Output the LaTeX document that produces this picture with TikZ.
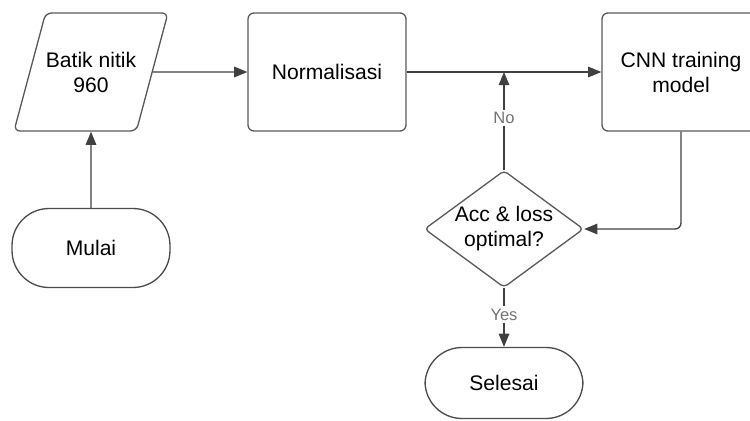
\documentclass[tikz,border=0pt]{standalone}
\usepackage{fontspec}
\setmainfont{Liberation Sans}
\usetikzlibrary{arrows.meta,shapes.geometric}
\tikzset{
  flowtext/.style={font=\fontsize{12}{14.2}\selectfont, align=center, text=black},
  procbox/.style={flowtext, draw=black!65, line width=0.75pt, rounded corners=0.12cm, minimum width=3.16cm, minimum height=2.36cm},
  iobox/.style={flowtext, draw=black!65, line width=0.75pt, rounded corners=0.12cm, trapezium, trapezium left angle=52, trapezium right angle=128, trapezium stretches body, minimum width=3.08cm, minimum height=2.36cm, inner sep=0pt},
  termbox/.style={flowtext, draw=black!70, line width=0.75pt, rounded corners=0.74cm, minimum width=3.16cm, minimum height=1.58cm},
  decbox/.style={flowtext, draw=black!65, line width=0.75pt, rounded corners=0.08cm, diamond, aspect=1.36, inner sep=0pt, minimum width=3.04cm, minimum height=2.24cm},
  flowarrow/.style={draw=black!75, line width=0.75pt, -{Triangle[length=7.5pt, width=6pt]}},
  flowlabel/.style={font=\fontsize{9.4}{11}\selectfont, text=black!55, fill=white, inner sep=1.5pt}
}
\begin{document}
\begin{tikzpicture}[x=0.02cm,y=-0.02cm]
\useasboundingbox (0,0) rectangle (750,420);
\node[iobox] (batik) at (91,72) {Batik nitik\\960};
\node[procbox] (norm) at (327,72) {Normalisasi};
\node[procbox] (cnn) at (681,72) {CNN training\\model};
\node[decbox] (optim) at (504,229) {Acc \& loss\\optimal?};
\node[termbox] (mulai) at (91,248) {Mulai};
\node[termbox, minimum height=1.42cm] (selesai) at (504,383) {Selesai};
\coordinate (join) at (504,72);
\draw[flowarrow] (mulai.north) -- (batik.south);
\draw[flowarrow] (batik.east) -- (norm.west);
\draw[flowarrow] (norm.east) -- (cnn.west);
\draw[flowarrow, rounded corners=0.12cm] (cnn.south) |- (optim.east);
\draw[flowarrow] (optim.north) -- node[flowlabel, pos=0.53] {No} (join);
\draw[flowarrow] (optim.south) -- node[flowlabel, pos=0.45] {Yes} (selesai.north);
\end{tikzpicture}
\end{document}
